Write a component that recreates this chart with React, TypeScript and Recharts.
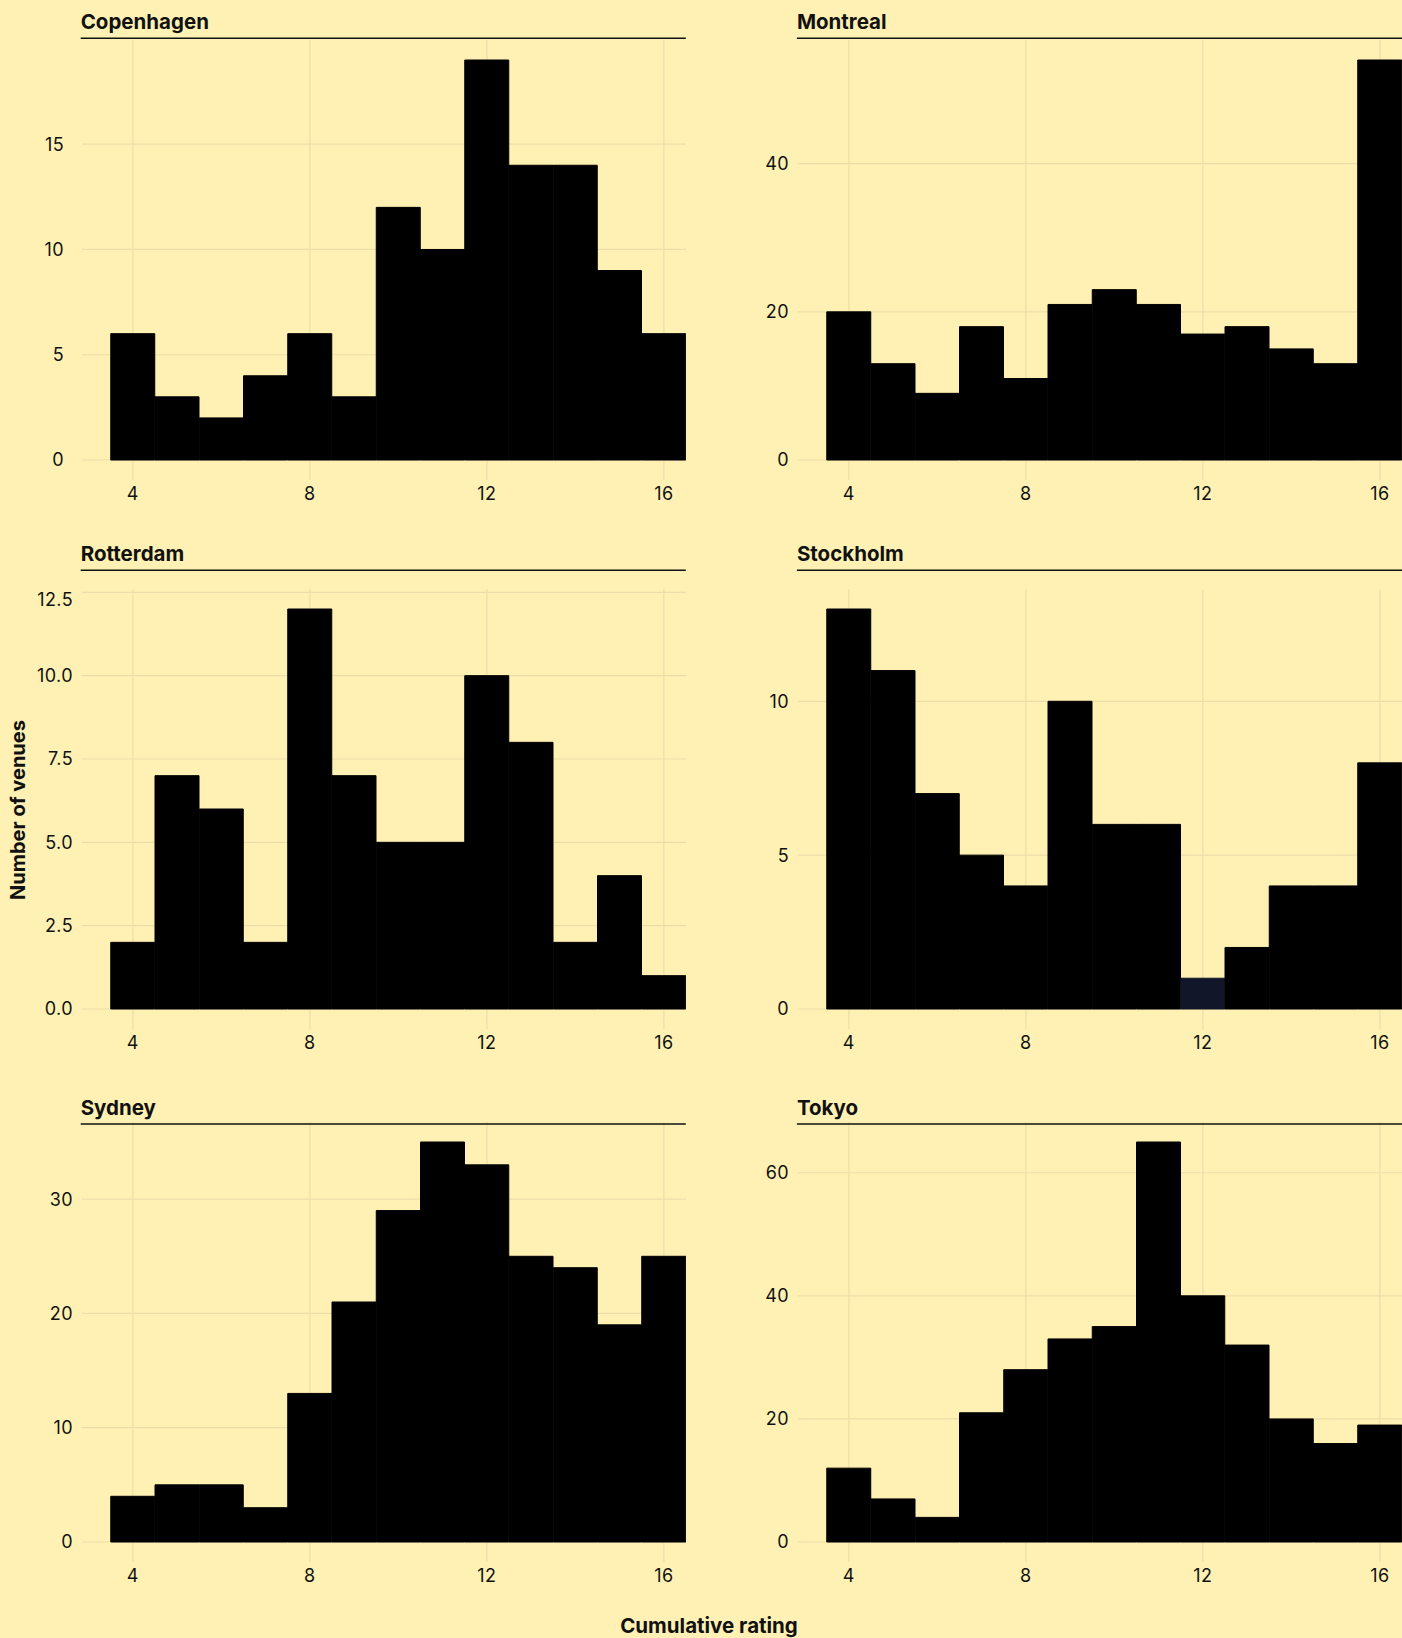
import { Bar, BarChart, CartesianGrid, Cell, XAxis, YAxis } from 'recharts'

// histogram bins (cumulative rating), one bar per integer
const ratings = [4, 5, 6, 7, 8, 9, 10, 11, 12, 13, 14, 15, 16]
const xTicks = [4, 8, 12, 16]

const copenhagen = [6, 3, 2, 4, 6, 3, 12, 10, 19, 14, 14, 9, 6]
const montreal = [20, 13, 9, 18, 11, 21, 23, 21, 17, 18, 15, 13, 54]
const rotterdam = [2, 7, 6, 2, 12, 7, 5, 5, 10, 8, 2, 4, 1]
const stockholm = [13, 11, 7, 5, 4, 10, 6, 6, 1, 2, 4, 4, 8]
const sydney = [4, 5, 5, 3, 13, 21, 29, 35, 33, 25, 24, 19, 25]
const tokyo = [12, 7, 4, 21, 28, 33, 35, 65, 40, 32, 20, 16, 19]

const copenhagenTicks = [0, 5, 10, 15]
const montrealTicks = [0, 20, 40]
const rotterdamTicks = [0, 2.5, 5, 7.5, 10, 12.5]
const stockholmTicks = [0, 5, 10]
const sydneyTicks = [0, 10, 20, 30]
const tokyoTicks = [0, 20, 40, 60]

const BG = '#fff1b4'
const GRID = '#ebdea8'
const INK = '#111111'
const FONT = 'Inter, "Noto Sans", sans-serif'

const PANEL_W = 604
const PANEL_H = 440
const Y_AXIS_W = 70
const X_AXIS_H = 40
const colX = [81.8, 798]
const rowTop = [40, 589, 1121.5]
const titleBase = [28.5, 561, 1115]
const ruleY = [38.3, 570.3, 1124]

type PanelProps = {
  title: string
  values: number[]
  yTicks: number[]
  col: number
  row: number
  decimals?: number
  highlight?: number
  labelGap?: number
}

function Panel({ values, yTicks, col, row, decimals = 0, highlight, labelGap = 9 }: PanelProps) {
  const data = ratings.map((r, i) => ({ r, n: values[i] }))
  const max = Math.max(...values)
  const unit = PANEL_W / (ratings.length + 0.65)
  const tickStyle = { fontSize: 18, fill: INK, fontFamily: FONT, letterSpacing: 0.4 }
  return (
    <div style={{ position: 'absolute', left: colX[col] - Y_AXIS_W, top: rowTop[row] }}>
      <BarChart
        width={Y_AXIS_W + PANEL_W}
        height={PANEL_H + X_AXIS_H}
        data={data}
        margin={{ top: 0, right: 0, bottom: 0, left: 0 }}
        barCategoryGap={0}
        barGap={0}
      >
        <CartesianGrid stroke={GRID} strokeWidth={1.2} syncWithTicks />
        <XAxis
          dataKey="r"
          type="category"
          ticks={xTicks}
          interval={0}
          height={X_AXIS_H}
          padding={{ left: unit * 0.65, right: 0 }}
          axisLine={false}
          tickLine={false}
          tickSize={0}
          tickMargin={7}
          tick={tickStyle}
        />
        <YAxis
          type="number"
          width={Y_AXIS_W}
          domain={[-0.05 * max, 1.05 * max]}
          ticks={yTicks}
          allowDataOverflow
          axisLine={false}
          tickLine={false}
          tickSize={0}
          tickMargin={labelGap}
          tickFormatter={(v: number) => v.toFixed(decimals)}
          tick={tickStyle}
        />
        <Bar dataKey="n" fill="#000" isAnimationActive={false}>
          {data.map((d) => {
            const c = d.r === highlight ? '#111628' : '#000'
            return <Cell key={d.r} fill={c} stroke={c} strokeWidth={1} />
          })}
        </Bar>
      </BarChart>
    </div>
  )
}

const panels: PanelProps[] = [
  { title: 'Copenhagen', values: copenhagen, yTicks: copenhagenTicks, col: 0, row: 0, labelGap: 18 },
  { title: 'Montreal', values: montreal, yTicks: montrealTicks, col: 1, row: 0 },
  { title: 'Rotterdam', values: rotterdam, yTicks: rotterdamTicks, col: 0, row: 1, decimals: 1 },
  { title: 'Stockholm', values: stockholm, yTicks: stockholmTicks, col: 1, row: 1, highlight: 12 },
  { title: 'Sydney', values: sydney, yTicks: sydneyTicks, col: 0, row: 2 },
  { title: 'Tokyo', values: tokyo, yTicks: tokyoTicks, col: 1, row: 2 },
]

export default function App() {
  return (
    <div
      style={{
        position: 'absolute',
        left: 0,
        top: 0,
        width: 1402,
        height: 1638,
        background: BG,
        overflow: 'hidden',
        fontFamily: FONT,
      }}
    >
      {panels.map((p) => (
        <Panel key={p.title} {...p} />
      ))}
      <svg
        width={1402}
        height={1638}
        style={{ position: 'absolute', left: 0, top: 0, pointerEvents: 'none' }}
      >
        {panels.map((p) => {
          const x0 = colX[p.col] - 1.1
          return (
            <g key={p.title}>
              <text x={x0} y={titleBase[p.row]} fontSize={20.5} fontWeight={700} fill={INK} fontFamily={FONT}>
                {p.title}
              </text>
              <line x1={x0} x2={colX[p.col] + PANEL_W} y1={ruleY[p.row]} y2={ruleY[p.row]} stroke={INK} strokeWidth={1.4} />
            </g>
          )
        })}
        <text
          transform="translate(25,810) rotate(-90)"
          textAnchor="middle"
          fontSize={20}
          fontWeight={700}
          fill={INK}
          fontFamily={FONT}
        >
          Number of venues
        </text>
        <text x={709} y={1633} textAnchor="middle" fontSize={20.5} fontWeight={700} fill={INK} fontFamily={FONT}>
          Cumulative rating
        </text>
      </svg>
    </div>
  )
}
